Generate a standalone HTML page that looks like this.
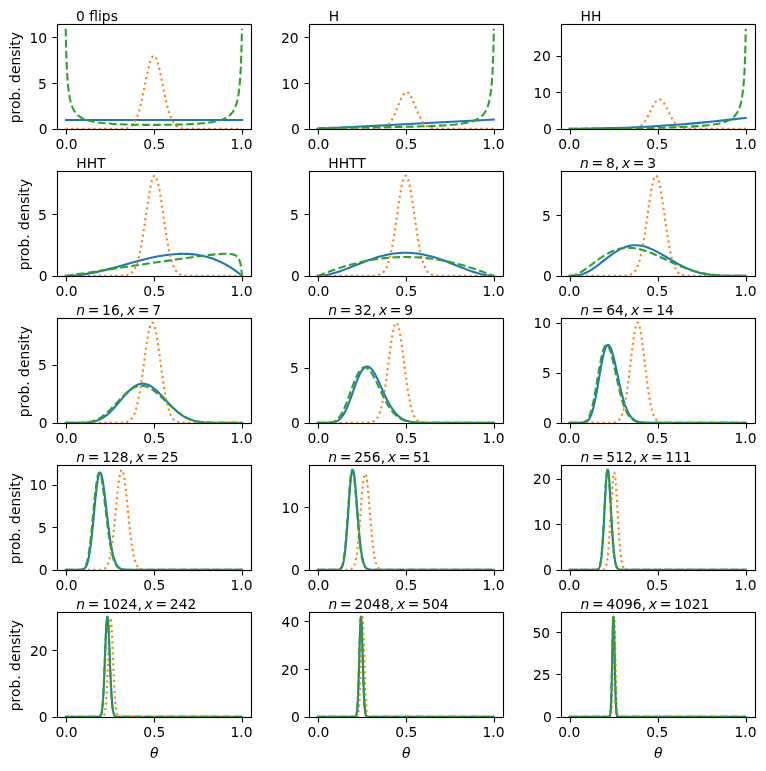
<!DOCTYPE html>
<html><head><meta charset="utf-8"><title>Posterior updating</title><style>html,body{margin:0;padding:0;background:#fff}svg{display:block}</style></head><body>
<svg width="766" height="771" viewBox="0 0 766 771">
<rect width="766" height="771" fill="#fff"/>
<defs><clipPath id="c0"><rect x="57" y="24" width="194" height="105"/></clipPath><clipPath id="c1"><rect x="309" y="24" width="194" height="105"/></clipPath><clipPath id="c2"><rect x="561" y="24" width="194" height="105"/></clipPath><clipPath id="c3"><rect x="57" y="171" width="194" height="105"/></clipPath><clipPath id="c4"><rect x="309" y="171" width="194" height="105"/></clipPath><clipPath id="c5"><rect x="561" y="171" width="194" height="105"/></clipPath><clipPath id="c6"><rect x="57" y="318" width="194" height="105"/></clipPath><clipPath id="c7"><rect x="309" y="318" width="194" height="105"/></clipPath><clipPath id="c8"><rect x="561" y="318" width="194" height="105"/></clipPath><clipPath id="c9"><rect x="57" y="465" width="194" height="105"/></clipPath><clipPath id="c10"><rect x="309" y="465" width="194" height="105"/></clipPath><clipPath id="c11"><rect x="561" y="465" width="194" height="105"/></clipPath><clipPath id="c12"><rect x="57" y="612" width="194" height="105"/></clipPath><clipPath id="c13"><rect x="309" y="612" width="194" height="105"/></clipPath><clipPath id="c14"><rect x="561" y="612" width="194" height="105"/></clipPath></defs>
<g clip-path="url(#c0)" fill="none" stroke-width="2.08" stroke-linejoin="round"><path d="M66 120L242 120" stroke="#1f77b4" stroke-linecap="square"/><path d="M65.7 128.77L114.7 128.77 119.1 128.74 121.92 128.67 123.68 128.56 125.09 128.41 126.33 128.21 127.56 127.91 128.62 127.55 129.68 127.06 130.56 126.53 131.44 125.87 131.97 125.4 132.5 124.87 133.38 123.82 134.26 122.56 135.14 121.06 136.02 119.29 136.73 117.66 137.61 115.35 138.31 113.27 139.02 110.98 139.9 107.84 140.78 104.37 141.66 100.62 143.25 93.27 146.24 78.38 147.3 73.3 148.36 68.59 149.41 64.4 150.12 61.99 150.65 60.41 151.18 59.04 151.71 57.9 152.23 57 152.76 56.36 153.12 56.07 153.29 55.96 153.64 55.85 153.82 55.83 154 55.85 154.35 55.96 154.52 56.07 154.88 56.36 155.41 57 155.93 57.9 156.46 59.04 156.99 60.41 157.52 61.99 158.23 64.4 159.28 68.59 160.34 73.3 161.4 78.38 164.39 93.27 165.98 100.62 166.86 104.37 167.74 107.84 168.62 110.98 169.33 113.27 170.03 115.35 170.91 117.66 171.62 119.29 172.5 121.06 173.38 122.56 174.26 123.82 175.14 124.87 175.67 125.4 176.2 125.87 177.08 126.53 177.96 127.06 179.02 127.55 180.08 127.91 181.31 128.21 182.55 128.41 183.96 128.56 185.72 128.67 188.54 128.74 192.94 128.77 241.94 128.77" stroke="#ff7f0e" stroke-dasharray="2.08 3.44"/><path d="M65.7 28.77L65.88 37.77 66.23 51.62 66.41 57.06 66.76 65.9 67.11 72.77 67.64 80.63 68.17 86.52 68.7 91.1 69.23 94.76 69.58 96.82 69.93 98.64 70.28 100.26 70.81 102.37 71.17 103.61 71.69 105.25 72.22 106.68 72.75 107.95 73.28 109.06 73.81 110.06 74.51 111.24 75.22 112.26 75.92 113.17 76.63 113.97 77.33 114.69 78.21 115.49 79.1 116.2 80.15 116.94 81.21 117.59 82.27 118.17 83.5 118.76 84.74 119.28 85.97 119.74 87.38 120.21 88.97 120.67 90.55 121.07 92.31 121.47 94.08 121.81 96.01 122.15 98.13 122.47 102.71 123.03 108 123.52 113.81 123.93 120.34 124.26 127.74 124.53 135.84 124.73 144.66 124.85 153.82 124.89 162.98 124.85 171.8 124.73 179.9 124.53 187.3 124.26 193.83 123.93 199.64 123.52 204.93 123.03 209.51 122.47 211.63 122.15 213.56 121.81 215.33 121.47 217.09 121.07 218.67 120.67 220.26 120.21 221.67 119.74 222.9 119.28 224.14 118.76 225.37 118.17 226.43 117.59 227.49 116.94 228.54 116.2 229.43 115.49 230.31 114.69 231.01 113.97 231.72 113.17 232.42 112.26 233.13 111.24 233.83 110.06 234.36 109.06 234.89 107.95 235.42 106.68 235.95 105.25 236.47 103.61 236.83 102.37 237.36 100.26 237.71 98.64 238.06 96.82 238.41 94.76 238.94 91.1 239.47 86.52 240 80.63 240.53 72.77 240.88 65.9 241.23 57.06 241.41 51.62 241.76 37.77 241.94 28.77" stroke="#2ca02c" stroke-dasharray="7.71 3.33"/></g>
<path d="M66.5 129.5v5M154.5 129.5v5M242.5 129.5v5M57.5 129.5h-5M57.5 83.5h-5M57.5 37.5h-5" stroke="#000" stroke-width="1.11" fill="none"/>
<rect x="57.5" y="24.5" width="194" height="105" fill="none" stroke="#000" stroke-width="1.11"/>
<g clip-path="url(#c1)" fill="none" stroke-width="2.08" stroke-linejoin="round"><path d="M317.61 128.77L493.84 119.63" stroke="#1f77b4" stroke-linecap="square"/><path d="M317.61 128.77L367.66 128.77 374.88 128.72 378.06 128.59 379.29 128.49 380.52 128.33 381.58 128.15 382.46 127.95 383.34 127.69 384.22 127.37 385.28 126.87 386.16 126.36 387.04 125.73 387.93 124.99 388.81 124.11 389.69 123.08 390.57 121.89 391.27 120.83 391.98 119.65 392.86 118.04 393.56 116.64 394.45 114.75 396.03 111.05 399.03 103.53 400.09 100.96 401.14 98.57 402.2 96.45 402.91 95.23 403.43 94.43 403.96 93.74 404.49 93.16 405.02 92.71 405.55 92.38 406.08 92.18 406.61 92.12 407.13 92.19 407.66 92.39 408.19 92.72 408.72 93.18 409.25 93.76 409.78 94.45 410.31 95.26 411.01 96.48 412.07 98.6 413.13 100.99 414.18 103.56 417 110.64 417.89 112.75 418.77 114.77 419.65 116.65 420.35 118.05 421.23 119.66 421.94 120.82 422.64 121.89 423.52 123.07 424.23 123.9 425.11 124.81 425.99 125.58 426.87 126.23 427.75 126.77 428.81 127.28 429.69 127.62 430.57 127.89 431.63 128.14 432.69 128.33 433.75 128.46 434.98 128.57 438.15 128.71 445.38 128.77 493.84 128.77" stroke="#ff7f0e" stroke-dasharray="2.08 3.44"/><path d="M317.61 128.77L317.96 128.6 318.49 128.44 319.19 128.29 319.9 128.2 322.01 128.04 325.18 127.92 334.53 127.77 378.76 127.29 391.8 127.1 403.26 126.88 415.07 126.6 425.46 126.27 434.45 125.9 442.38 125.47 449.26 124.98 455.25 124.42 457.89 124.11 460.36 123.78 462.65 123.43 464.94 123.03 466.88 122.65 468.82 122.2 470.58 121.74 472.34 121.2 473.93 120.65 475.34 120.08 476.75 119.43 477.98 118.78 479.22 118.03 480.27 117.29 481.33 116.43 482.39 115.45 483.27 114.49 484.15 113.39 484.86 112.39 485.56 111.23 486.27 109.91 486.79 108.78 487.5 107.04 488.03 105.52 488.56 103.78 489.08 101.75 489.61 99.37 489.97 97.53 490.32 95.44 490.67 93.06 491.02 90.31 491.38 87.11 491.9 81.16 492.43 73.22 492.79 66.27 492.96 62.11 493.31 51.85 493.67 37.86 493.84 28.77" stroke="#2ca02c" stroke-dasharray="7.71 3.33"/></g>
<path d="M318.5 129.5v5M406.5 129.5v5M494.5 129.5v5M309.5 129.5h-5M309.5 83.5h-5M309.5 37.5h-5" stroke="#000" stroke-width="1.11" fill="none"/>
<rect x="309.5" y="24.5" width="194" height="105" fill="none" stroke="#000" stroke-width="1.11"/>
<g clip-path="url(#c2)" fill="none" stroke-width="2.08" stroke-linejoin="round"><path d="M569.51 128.77L580.44 128.73 591.54 128.6 602.47 128.39 613.57 128.09 624.5 127.7 635.6 127.23 646.7 126.67 657.63 126.03 668.56 125.31 679.66 124.49 690.59 123.6 701.69 122.61 712.79 121.53 723.72 120.38 734.82 119.13 745.75 117.81" stroke="#1f77b4" stroke-linecap="square"/><path d="M569.51 128.77L620.44 128.77 627.67 128.73 630.84 128.63 633.31 128.43 634.37 128.29 635.25 128.13 636.13 127.93 637.01 127.67 638.07 127.28 638.95 126.88 639.83 126.38 640.71 125.79 641.59 125.08 642.47 124.26 643.35 123.31 644.06 122.46 644.76 121.52 645.65 120.23 646.35 119.1 647.23 117.58 648.82 114.59 651.81 108.52 652.87 106.45 653.93 104.52 654.99 102.81 655.69 101.83 656.22 101.18 656.75 100.63 657.28 100.16 657.81 99.8 658.33 99.54 658.86 99.39 659.39 99.34 659.92 99.4 660.45 99.57 660.98 99.84 661.51 100.22 662.04 100.69 662.56 101.26 663.09 101.91 663.8 102.91 664.86 104.63 665.91 106.57 666.97 108.64 669.79 114.35 671.38 117.35 672.26 118.88 673.14 120.29 674.02 121.57 674.72 122.5 675.43 123.35 676.31 124.29 677.02 124.95 677.9 125.67 678.78 126.28 679.66 126.79 680.54 127.21 681.6 127.61 682.48 127.88 683.36 128.09 684.24 128.26 685.3 128.41 686.53 128.54 687.77 128.62 690.94 128.73 698.16 128.77 745.75 128.77" stroke="#ff7f0e" stroke-dasharray="2.08 3.44"/><path d="M569.51 128.77L590.84 128.64 613.04 128.46 631.37 128.25 647.06 128.01 660.63 127.73 672.26 127.41 682.3 127.05 691.11 126.62 698.69 126.13 702.04 125.86 705.21 125.57 708.21 125.25 710.85 124.92 713.5 124.55 715.79 124.17 717.9 123.77 720.02 123.3 721.96 122.81 723.72 122.3 725.3 121.76 726.89 121.15 728.3 120.51 729.71 119.78 730.94 119.03 732 118.3 733.06 117.46 734.12 116.49 735 115.55 735.88 114.48 736.76 113.22 737.47 112.06 738.17 110.72 738.7 109.58 739.4 107.82 739.93 106.29 740.46 104.53 740.99 102.48 741.52 100.07 741.87 98.21 742.22 96.11 742.58 93.7 742.93 90.93 743.28 87.69 743.81 81.68 744.34 73.66 744.69 66.65 744.87 62.44 745.22 52.08 745.57 37.95 745.75 28.77" stroke="#2ca02c" stroke-dasharray="7.71 3.33"/></g>
<path d="M570.5 129.5v5M658.5 129.5v5M746.5 129.5v5M561.5 129.5h-5M561.5 92.5h-5M561.5 56.5h-5" stroke="#000" stroke-width="1.11" fill="none"/>
<rect x="561.5" y="24.5" width="194" height="105" fill="none" stroke="#000" stroke-width="1.11"/>
<g clip-path="url(#c3)" fill="none" stroke-width="2.08" stroke-linejoin="round"><path d="M65.7 275.77L69.05 275.72 72.4 275.56 75.92 275.3 79.45 274.94 83.15 274.46 86.85 273.89 90.9 273.17 94.96 272.36 98.31 271.64 101.83 270.82 105.53 269.91 109.58 268.87 116.81 266.92 134.26 262.07 138.84 260.84 142.89 259.79 147.12 258.75 151 257.86 154.7 257.06 158.4 256.34 161.75 255.74 165.1 255.22 168.27 254.79 171.44 254.43 174.44 254.17 177.44 253.97 180.43 253.85 183.25 253.82 185.37 253.84 187.3 253.9 189.42 254.01 191.36 254.15 193.47 254.35 195.41 254.58 197.35 254.85 199.29 255.17 201.23 255.53 203.17 255.94 205.1 256.39 206.87 256.85 208.81 257.4 210.57 257.95 212.51 258.6 214.27 259.24 216.03 259.92 217.79 260.65 219.56 261.43 221.32 262.25 223.08 263.13 224.84 264.05 226.61 265.02 228.37 266.05 230.13 267.13 231.89 268.26 233.66 269.45 235.24 270.56 237 271.85 238.59 273.06 240.35 274.46 241.94 275.77" stroke="#1f77b4" stroke-linecap="square"/><path d="M65.7 275.77L115.93 275.77 120.34 275.73 123.15 275.64 124.92 275.49 126.33 275.29 127.56 275.02 128.79 274.61 129.85 274.11 130.73 273.56 131.61 272.86 132.5 271.97 133.02 271.34 133.55 270.62 134.43 269.2 135.32 267.48 136.2 265.43 137.08 262.99 137.78 260.75 138.66 257.55 139.37 254.67 140.07 251.5 140.95 247.12 141.84 242.3 142.72 237.07 144.3 226.81 147.12 207.28 148.18 200.18 149.24 193.58 150.3 187.72 151 184.34 151.53 182.13 152.06 180.21 152.59 178.62 153.12 177.37 153.47 176.73 153.64 176.47 154 176.08 154.17 175.94 154.52 175.78 154.7 175.77 154.88 175.8 155.23 175.97 155.41 176.12 155.76 176.54 156.29 177.48 156.82 178.76 157.34 180.38 157.87 182.32 158.4 184.57 159.11 187.98 160.16 193.87 161.22 200.5 162.28 207.61 165.1 227.1 166.69 237.32 167.57 242.53 168.27 246.4 169.15 250.84 169.86 254.06 170.56 257 171.44 260.25 172.15 262.55 173.03 265.04 173.91 267.16 174.79 268.93 175.67 270.39 176.2 271.13 176.73 271.79 177.61 272.71 178.49 273.44 179.37 274.02 180.43 274.54 181.67 274.97 182.9 275.26 184.31 275.47 186.07 275.62 188.89 275.73 193.3 275.76 241.94 275.77" stroke="#ff7f0e" stroke-dasharray="2.08 3.44"/><path d="M65.7 275.77L66.58 275.73 67.99 275.57 73.28 274.83 126.86 266.74 151.35 263.07 173.56 259.81 190.48 257.42 203.34 255.73 208.45 255.11 213.04 254.61 216.91 254.23 220.44 253.96 223.43 253.8 226.08 253.75 228.37 253.8 230.48 253.98 232.25 254.26 233.66 254.63 234.36 254.88 234.89 255.11 235.59 255.47 236.12 255.81 236.65 256.2 237.18 256.67 237.71 257.23 238.06 257.68 238.41 258.19 238.77 258.78 239.12 259.48 239.47 260.29 240 261.83 240.53 263.91 240.88 265.74 241.06 266.84 241.41 269.58 241.76 273.33 241.94 275.77" stroke="#2ca02c" stroke-dasharray="7.71 3.33"/></g>
<path d="M66.5 276.5v5M154.5 276.5v5M242.5 276.5v5M57.5 276.5h-5M57.5 214.5h-5" stroke="#000" stroke-width="1.11" fill="none"/>
<rect x="57.5" y="171.5" width="194" height="105" fill="none" stroke="#000" stroke-width="1.11"/>
<g clip-path="url(#c4)" fill="none" stroke-width="2.08" stroke-linejoin="round"><path d="M317.61 275.77L319.72 275.72 321.84 275.57 323.95 275.33 326.24 274.97 328.53 274.52 330.82 274 333.29 273.35 335.94 272.57 340.17 271.18 345.1 269.38 349.86 267.53 362.02 262.67 365.54 261.32 368.89 260.08 372.24 258.91 375.59 257.81 378.76 256.85 381.93 255.97 385.11 255.19 388.1 254.54 391.1 253.99 394.09 253.53 397.09 253.17 399.91 252.93 402.91 252.78 405.73 252.73 408.54 252.78 411.54 252.93 414.36 253.17 417.36 253.53 420.35 253.99 423.35 254.54 426.34 255.19 429.52 255.97 432.69 256.85 435.86 257.81 439.21 258.91 442.56 260.08 445.91 261.32 449.43 262.67 461.59 267.53 466.35 269.38 471.28 271.18 475.51 272.57 478.16 273.35 480.63 274 482.92 274.52 485.21 274.97 487.5 275.33 489.61 275.57 491.73 275.72 493.84 275.77" stroke="#1f77b4" stroke-linecap="square"/><path d="M317.61 275.77L367.13 275.77 371.54 275.73 374.35 275.64 376.12 275.49 377.53 275.29 378.76 275.01 379.99 274.59 381.05 274.08 381.93 273.52 382.81 272.81 383.7 271.91 384.22 271.26 384.75 270.53 385.63 269.09 386.52 267.34 387.4 265.25 388.28 262.77 388.98 260.49 389.86 257.24 390.57 254.32 391.27 251.09 392.15 246.65 392.86 242.78 393.74 237.56 395.33 227.3 398.15 207.7 399.2 200.55 400.26 193.89 401.32 187.96 402.02 184.53 402.55 182.29 403.08 180.34 403.61 178.72 404.14 177.44 404.67 176.52 405.02 176.1 405.2 175.96 405.55 175.79 405.73 175.77 405.9 175.79 406.25 175.96 406.43 176.1 406.78 176.52 407.31 177.44 407.84 178.72 408.37 180.34 408.9 182.29 409.43 184.53 410.13 187.96 411.19 193.89 412.25 200.55 413.3 207.7 416.12 227.3 417.71 237.56 418.59 242.78 419.3 246.65 420.18 251.09 420.88 254.32 421.59 257.24 422.47 260.49 423.17 262.77 424.05 265.25 424.93 267.34 425.82 269.09 426.7 270.53 427.23 271.26 427.75 271.91 428.64 272.81 429.52 273.52 430.4 274.08 431.46 274.59 432.69 275.01 433.92 275.29 435.33 275.49 437.1 275.64 439.91 275.73 444.32 275.77 493.84 275.77" stroke="#ff7f0e" stroke-dasharray="2.08 3.44"/><path d="M317.61 275.77L317.96 275.74 318.49 275.64 319.9 275.21 321.84 274.49 328.71 271.84 333.12 270.21 338.23 268.43 343.34 266.77 348.45 265.24 353.38 263.89 358.32 262.66 363.25 261.55 368.72 260.46 374 259.55 379.29 258.78 384.58 258.15 389.86 257.66 395.15 257.3 400.44 257.09 405.73 257.02 411.01 257.09 416.3 257.3 421.59 257.66 426.87 258.15 432.16 258.78 437.45 259.55 442.73 260.46 448.2 261.55 453.13 262.66 458.07 263.89 463 265.24 468.11 266.77 473.22 268.43 478.33 270.21 482.74 271.84 489.61 274.49 491.55 275.21 492.96 275.64 493.49 275.74 493.84 275.77" stroke="#2ca02c" stroke-dasharray="7.71 3.33"/></g>
<path d="M318.5 276.5v5M406.5 276.5v5M494.5 276.5v5M309.5 276.5h-5M309.5 214.5h-5" stroke="#000" stroke-width="1.11" fill="none"/>
<rect x="309.5" y="171.5" width="194" height="105" fill="none" stroke="#000" stroke-width="1.11"/>
<g clip-path="url(#c5)" fill="none" stroke-width="2.08" stroke-linejoin="round"><path d="M569.51 275.77L572.33 275.75 574.45 275.65 576.56 275.45 578.5 275.15 580.44 274.72 582.38 274.15 584.14 273.52 586.08 272.69 588.02 271.73 589.96 270.65 592.07 269.34 594.18 267.93 596.12 266.54 598.41 264.82 607.23 257.9 610.93 255.11 613.04 253.6 614.98 252.3 616.92 251.08 618.68 250.06 620.97 248.85 623.09 247.89 625.2 247.06 627.32 246.38 629.43 245.86 631.37 245.51 633.49 245.28 635.6 245.21 637.36 245.26 639.3 245.43 641.06 245.7 643 246.09 644.94 246.6 646.88 247.2 648.99 247.97 651.11 248.84 652.87 249.63 654.81 250.57 656.93 251.65 659.04 252.8 663.27 255.23 671.55 260.17 675.08 262.23 678.95 264.39 682.48 266.23 684.59 267.26 686.53 268.15 688.47 268.99 690.41 269.78 692.35 270.51 694.29 271.19 696.23 271.81 698.16 272.38 700.28 272.93 702.39 273.42 704.51 273.85 706.62 274.23 708.91 274.57 711.21 274.86 713.5 275.09 715.96 275.29 720.9 275.56 726.54 275.7 733.06 275.76 745.75 275.77" stroke="#1f77b4" stroke-linecap="square"/><path d="M569.51 275.77L618.15 275.77 622.38 275.73 625.2 275.63 626.96 275.49 628.37 275.27 629.61 274.98 630.67 274.62 631.72 274.11 632.6 273.54 633.49 272.82 634.37 271.9 635.25 270.75 636.13 269.33 637.01 267.6 637.89 265.52 638.77 263.04 639.48 260.75 640.36 257.48 641.06 254.53 641.77 251.26 642.65 246.76 643.35 242.82 644.24 237.51 645.82 227.05 648.64 207.1 649.7 199.85 650.76 193.14 651.64 188.14 652.34 184.63 652.87 182.33 653.4 180.35 653.93 178.7 654.46 177.4 654.81 176.74 654.99 176.48 655.34 176.07 655.52 175.93 655.87 175.78 656.04 175.77 656.22 175.8 656.57 176 656.75 176.16 657.1 176.61 657.63 177.6 658.16 178.96 658.69 180.67 659.22 182.72 659.74 185.07 660.27 187.71 661.33 193.72 662.39 200.5 663.45 207.79 666.09 226.55 667.68 237.08 668.56 242.44 669.26 246.41 670.14 250.96 670.85 254.26 671.55 257.25 672.43 260.56 673.14 262.88 674.02 265.39 674.9 267.5 675.78 269.26 676.66 270.7 677.19 271.43 677.72 272.06 678.6 272.95 679.48 273.65 680.36 274.19 681.42 274.68 682.48 275.03 683.71 275.31 685.12 275.51 686.89 275.65 689.53 275.73 693.93 275.77 745.75 275.77" stroke="#ff7f0e" stroke-dasharray="2.08 3.44"/><path d="M569.51 275.77L570.92 275.73 572.16 275.6 573.39 275.37 574.62 275.04 576.03 274.55 577.44 273.95 578.85 273.26 580.44 272.39 581.67 271.65 583.08 270.75 585.9 268.8 588.72 266.73 596.65 260.75 599.12 258.96 601.23 257.5 603.7 255.89 605.99 254.5 608.28 253.23 610.57 252.07 612.87 251.05 615.16 250.17 617.45 249.42 619.56 248.86 621.85 248.39 624.15 248.05 626.44 247.86 628.73 247.79 630.84 247.85 632.96 248.01 635.07 248.28 637.19 248.64 639.48 249.13 641.77 249.72 644.06 250.39 646.53 251.21 648.64 251.98 650.76 252.8 653.05 253.75 655.52 254.81 660.27 256.98 669.79 261.47 673.84 263.35 678.07 265.23 681.95 266.85 686.36 268.54 688.47 269.29 690.59 270 692.7 270.67 694.82 271.29 696.93 271.87 699.05 272.4 701.34 272.92 703.63 273.38 705.92 273.8 708.21 274.17 710.5 274.49 712.97 274.78 715.44 275.02 717.9 275.22 723.01 275.51 728.65 275.68 735 275.76 745.75 275.77" stroke="#2ca02c" stroke-dasharray="7.71 3.33"/></g>
<path d="M570.5 276.5v5M658.5 276.5v5M746.5 276.5v5M561.5 276.5h-5M561.5 215.5h-5" stroke="#000" stroke-width="1.11" fill="none"/>
<rect x="561.5" y="171.5" width="194" height="105" fill="none" stroke="#000" stroke-width="1.11"/>
<g clip-path="url(#c6)" fill="none" stroke-width="2.08" stroke-linejoin="round"><path d="M65.7 422.77L76.98 422.76 81.74 422.72 85.79 422.58 87.38 422.47 88.97 422.33 90.55 422.13 92.14 421.87 93.72 421.55 95.13 421.19 96.54 420.76 97.95 420.25 99.36 419.66 100.6 419.07 102.01 418.3 103.24 417.56 104.47 416.74 105.71 415.85 106.94 414.88 108.17 413.84 109.41 412.73 110.82 411.39 113.11 409.03 115.58 406.3 117.87 403.64 123.33 397.16 126.15 393.96 127.56 392.45 128.97 391.02 130.38 389.68 131.61 388.6 133.2 387.34 134.61 386.36 136.02 385.52 137.43 384.83 138.84 384.3 140.25 383.92 140.95 383.79 141.66 383.71 142.89 383.65 144.13 383.72 145.36 383.92 146.59 384.23 148 384.73 149.24 385.29 150.65 386.07 152.06 386.97 153.47 387.99 154.7 388.97 156.11 390.19 157.52 391.49 158.93 392.86 161.93 395.96 168.27 402.84 171.09 405.81 172.68 407.41 174.09 408.78 175.5 410.1 176.91 411.34 178.49 412.67 180.08 413.9 181.67 415.04 183.25 416.08 184.84 417.03 186.42 417.88 188.01 418.64 189.77 419.39 191.36 419.97 193.12 420.53 194.88 421 196.82 421.42 198.76 421.76 200.7 422.03 202.81 422.26 205.1 422.44 209.51 422.64 215.15 422.74 222.2 422.77 241.94 422.77" stroke="#1f77b4" stroke-linecap="square"/><path d="M65.7 422.77L115.58 422.77 119.81 422.73 122.45 422.65 124.04 422.52 125.45 422.32 126.68 422.04 127.74 421.68 128.79 421.18 129.68 420.61 130.56 419.87 131.26 419.13 132.14 417.99 133.02 416.56 133.91 414.81 134.79 412.68 135.67 410.13 136.37 407.75 137.25 404.35 137.96 401.26 138.66 397.84 139.37 394.09 140.07 390.03 140.95 384.53 142.54 373.66 145.18 354.25 146.24 346.73 147.3 339.8 148.18 334.67 148.71 331.95 149.24 329.53 149.77 327.45 150.3 325.72 150.82 324.38 151.18 323.71 151.35 323.43 151.71 323.03 151.88 322.9 152.06 322.81 152.23 322.77 152.41 322.78 152.59 322.83 152.76 322.93 152.94 323.07 153.29 323.5 153.47 323.78 153.82 324.48 154.35 325.85 154.88 327.61 155.41 329.72 155.93 332.16 156.46 334.91 157.34 340.08 158.4 347.05 159.46 354.59 162.1 374.03 163.51 383.73 164.39 389.3 165.1 393.42 165.98 398.14 166.69 401.53 167.39 404.6 168.27 407.98 168.98 410.33 169.86 412.85 170.74 414.96 171.62 416.69 172.5 418.09 173.38 419.22 174.09 419.94 174.97 420.67 175.85 421.22 176.91 421.72 177.96 422.07 179.2 422.34 180.61 422.53 182.19 422.65 184.84 422.74 189.07 422.77 241.94 422.77" stroke="#ff7f0e" stroke-dasharray="2.08 3.44"/><path d="M65.7 422.77L75.04 422.76 79.45 422.71 83.15 422.57 84.74 422.46 86.32 422.3 87.91 422.09 89.49 421.81 90.9 421.51 92.31 421.15 93.72 420.71 94.96 420.27 96.37 419.7 97.6 419.13 98.83 418.49 100.07 417.79 101.3 417.02 102.54 416.19 103.77 415.29 105 414.33 106.24 413.3 107.65 412.07 109.94 409.91 112.4 407.43 114.7 405.02 120.51 398.77 123.51 395.69 125.09 394.15 126.5 392.86 127.91 391.65 129.32 390.53 130.91 389.39 132.5 388.39 134.08 387.54 135.49 386.92 137.08 386.38 138.49 386.04 139.9 385.83 141.31 385.77 142.54 385.82 143.95 386 145.36 386.32 146.77 386.77 148.18 387.33 149.77 388.11 151.18 388.91 152.76 389.94 154.17 390.94 155.58 392.03 156.99 393.18 158.58 394.56 161.75 397.47 168.45 403.92 171.27 406.56 174.44 409.37 177.26 411.67 179.02 413 180.61 414.12 182.37 415.27 183.96 416.22 185.54 417.09 187.3 417.96 188.89 418.67 190.65 419.36 192.42 419.97 194.18 420.5 195.94 420.95 197.88 421.36 199.82 421.7 201.93 421.99 204.22 422.23 206.51 422.41 210.92 422.62 216.56 422.73 223.61 422.77 241.94 422.77" stroke="#2ca02c" stroke-dasharray="7.71 3.33"/></g>
<path d="M66.5 423.5v5M154.5 423.5v5M242.5 423.5v5M57.5 423.5h-5M57.5 365.5h-5" stroke="#000" stroke-width="1.11" fill="none"/>
<rect x="57.5" y="318.5" width="194" height="105" fill="none" stroke="#000" stroke-width="1.11"/>
<g clip-path="url(#c7)" fill="none" stroke-width="2.08" stroke-linejoin="round"><path d="M317.61 422.77L326.07 422.77 329.06 422.73 331.53 422.59 332.59 422.46 333.64 422.29 334.7 422.03 335.76 421.68 336.64 421.3 337.52 420.83 338.4 420.26 339.28 419.57 340.17 418.76 340.87 418.01 341.75 416.94 342.46 415.98 343.34 414.65 344.04 413.47 344.75 412.2 345.63 410.47 346.33 408.99 347.21 407.01 348.62 403.59 350.03 399.91 351.44 396.04 354.97 386.13 356.73 381.41 357.61 379.19 358.49 377.11 359.37 375.16 360.08 373.73 360.96 372.09 361.84 370.65 362.72 369.41 363.6 368.39 364.49 367.59 365.01 367.21 365.37 367.01 365.72 366.84 366.25 366.66 366.6 366.58 367.13 366.54 367.48 366.55 368.01 366.64 368.36 366.74 368.89 366.95 369.24 367.14 369.77 367.48 370.65 368.2 371.54 369.11 372.42 370.2 373.3 371.44 374.35 373.13 375.06 374.35 375.94 375.98 377.7 379.52 379.47 383.3 384.22 393.83 385.63 396.83 387.04 399.69 388.63 402.72 390.04 405.23 391.45 407.53 392.86 409.64 394.09 411.31 395.5 413.04 396.91 414.56 398.32 415.9 399.73 417.07 401.32 418.19 402.91 419.13 404.49 419.9 406.08 420.53 407.66 421.05 409.43 421.49 411.19 421.84 413.13 422.12 415.24 422.34 417.71 422.51 420.35 422.63 425.11 422.72 432.34 422.76 493.84 422.77" stroke="#1f77b4" stroke-linecap="square"/><path d="M317.61 422.77L362.02 422.77 365.9 422.73 368.36 422.63 369.95 422.48 371.18 422.27 372.24 422 373.3 421.59 374.18 421.12 375.06 420.5 375.94 419.67 376.65 418.84 377.17 418.1 377.53 417.55 378.23 416.28 378.76 415.16 379.11 414.34 379.82 412.48 380.52 410.32 381.23 407.83 381.93 404.99 382.64 401.79 383.34 398.22 384.05 394.28 384.75 389.98 385.63 384.14 387.04 373.91 389.51 354.74 390.57 346.78 391.45 340.61 392.33 335.1 392.86 332.18 393.39 329.6 393.92 327.4 394.45 325.59 394.97 324.22 395.33 323.55 395.5 323.29 395.86 322.93 396.03 322.82 396.21 322.77 396.38 322.77 396.56 322.82 396.74 322.93 396.91 323.08 397.27 323.55 397.44 323.86 397.79 324.62 398.32 326.14 398.68 327.39 399.2 329.6 399.73 332.19 400.26 335.11 401.14 340.64 402.02 346.82 403.08 354.81 405.55 374.06 406.96 384.33 407.84 390.18 408.54 394.48 409.25 398.43 409.95 402 410.66 405.2 411.54 408.68 412.25 411.08 413.13 413.62 413.83 415.33 414.18 416.08 414.71 417.09 415.07 417.69 415.59 418.49 416.12 419.18 416.65 419.78 417.36 420.44 418.24 421.08 419.12 421.57 420 421.92 421.06 422.23 422.29 422.45 423.7 422.6 425.29 422.69 427.75 422.75 431.98 422.77 493.84 422.77" stroke="#ff7f0e" stroke-dasharray="2.08 3.44"/><path d="M317.61 422.77L324.83 422.76 327.65 422.72 328.89 422.65 329.94 422.56 331 422.41 331.88 422.24 332.94 421.95 333.82 421.62 334.7 421.21 335.58 420.69 336.46 420.07 337.17 419.48 338.05 418.62 338.76 417.83 339.64 416.71 340.34 415.7 341.05 414.6 341.75 413.39 342.46 412.09 343.16 410.69 343.87 409.21 344.75 407.22 346.16 403.8 347.57 400.12 352.15 387.42 353.91 382.71 354.79 380.49 355.67 378.39 356.56 376.43 357.44 374.63 358.49 372.7 359.37 371.29 360.26 370.09 361.14 369.09 362.02 368.31 362.55 367.95 362.9 367.75 363.25 367.58 363.78 367.4 364.13 367.33 364.66 367.28 365.01 367.29 365.54 367.36 365.9 367.46 366.42 367.66 366.78 367.84 367.31 368.16 368.19 368.84 369.07 369.71 369.95 370.74 370.83 371.92 371.89 373.53 372.59 374.69 373.47 376.25 374.35 377.9 375.41 379.98 377.17 383.62 382.11 394.13 383.7 397.36 385.11 400.1 386.69 403.01 388.1 405.41 389.51 407.62 390.92 409.65 392.33 411.49 393.74 413.14 395.15 414.6 396.56 415.9 397.97 417.03 399.56 418.12 401.14 419.03 402.91 419.88 404.49 420.49 406.08 421 407.84 421.44 409.78 421.82 411.72 422.1 414.01 422.33 416.48 422.5 419.3 422.62 424.23 422.72 431.63 422.76 493.84 422.77" stroke="#2ca02c" stroke-dasharray="7.71 3.33"/></g>
<path d="M318.5 423.5v5M406.5 423.5v5M494.5 423.5v5M309.5 423.5h-5M309.5 368.5h-5" stroke="#000" stroke-width="1.11" fill="none"/>
<rect x="309.5" y="318.5" width="194" height="105" fill="none" stroke="#000" stroke-width="1.11"/>
<g clip-path="url(#c8)" fill="none" stroke-width="2.08" stroke-linejoin="round"><path d="M569.51 422.77L578.68 422.77 581.32 422.73 582.38 422.68 583.26 422.6 584.14 422.47 584.84 422.3 585.73 421.99 586.43 421.64 587.14 421.17 587.84 420.55 588.55 419.76 589.07 419.04 589.6 418.19 590.13 417.21 590.84 415.67 591.37 414.34 591.89 412.85 592.42 411.19 592.95 409.36 593.48 407.36 594.01 405.19 594.71 402.05 595.77 396.84 596.83 391.14 600.18 371.56 601.41 364.65 602.64 358.4 603.17 356.01 603.7 353.81 604.41 351.21 604.94 349.53 605.46 348.1 605.99 346.93 606.52 346.02 607.05 345.38 607.23 345.22 607.58 345 607.76 344.94 608.11 344.89 608.28 344.91 608.64 345.04 608.81 345.15 609.16 345.45 609.69 346.1 610.22 346.99 610.75 348.11 611.46 349.91 611.98 351.49 612.69 353.85 613.75 357.88 614.8 362.35 616.04 367.94 619.21 382.74 620.27 387.44 621.15 391.16 622.21 395.36 623.26 399.22 624.32 402.71 625.38 405.85 626.44 408.61 627.49 411.03 628.55 413.12 629.08 414.05 629.78 415.18 630.31 415.94 631.02 416.86 631.55 417.49 632.25 418.23 632.96 418.88 633.66 419.45 634.37 419.95 635.07 420.38 636.13 420.92 637.36 421.41 638.6 421.78 640.01 422.1 641.59 422.34 643.35 422.51 645.29 422.63 647.76 422.71 651.64 422.75 657.81 422.77 745.75 422.77" stroke="#1f77b4" stroke-linecap="square"/><path d="M569.51 422.77L606.87 422.77 610.4 422.72 612.51 422.62 613.92 422.47 614.98 422.26 616.04 421.94 616.92 421.55 617.8 421 618.51 420.42 619.21 419.68 619.92 418.75 620.62 417.59 621.33 416.17 622.03 414.46 622.74 412.4 623.44 409.97 624.15 407.14 624.85 403.87 625.38 401.13 625.91 398.14 626.61 393.76 627.32 388.95 628.02 383.74 629.26 373.85 631.55 354.23 632.43 346.94 633.31 340.18 634.01 335.34 634.54 332.12 635.07 329.31 635.6 326.96 635.95 325.67 636.48 324.16 636.83 323.46 637.19 322.99 637.36 322.86 637.54 322.78 637.72 322.77 637.89 322.82 638.07 322.93 638.24 323.11 638.6 323.64 638.95 324.42 639.48 326.04 639.83 327.4 640.36 329.84 640.71 331.72 641.24 334.88 642.12 340.94 643 347.77 646 373.17 647.41 384.44 648.11 389.58 648.82 394.32 649.52 398.63 650.23 402.49 650.93 405.91 651.64 408.9 652.34 411.47 652.7 412.61 653.22 414.15 653.58 415.07 654.11 416.3 654.46 417.03 654.99 417.99 655.34 418.56 655.87 419.3 656.4 419.92 656.93 420.45 657.63 421.02 658.33 421.47 659.22 421.88 660.1 422.17 661.15 422.41 662.21 422.56 663.45 422.66 665.03 422.72 671.38 422.77 745.75 422.77" stroke="#ff7f0e" stroke-dasharray="2.08 3.44"/><path d="M569.51 422.77L577.97 422.77 580.44 422.73 581.5 422.67 582.38 422.57 583.08 422.45 583.79 422.27 584.67 421.92 585.37 421.53 586.08 421.01 586.61 420.51 587.31 419.68 587.84 418.93 588.37 418.04 588.9 417.01 589.6 415.4 590.13 414.01 590.66 412.44 591.19 410.7 591.72 408.79 592.25 406.71 593.3 402.03 594.36 396.74 595.42 390.95 598.59 372.2 599.82 365.19 601.06 358.84 601.59 356.39 602.12 354.14 602.82 351.48 603.35 349.76 603.88 348.29 604.41 347.07 604.94 346.11 605.46 345.43 605.64 345.26 605.99 345.01 606.17 344.93 606.52 344.86 606.7 344.87 607.05 344.97 607.23 345.06 607.58 345.34 608.11 345.95 608.64 346.81 609.16 347.88 609.87 349.65 610.4 351.19 611.1 353.51 612.16 357.49 613.39 362.68 614.45 367.45 617.8 382.97 618.86 387.63 619.74 391.32 620.8 395.47 621.85 399.28 622.91 402.75 623.97 405.85 625.03 408.59 625.55 409.83 626.26 411.36 627.32 413.38 627.85 414.28 628.55 415.37 629.08 416.11 629.78 417 630.31 417.6 631.02 418.32 631.72 418.96 632.43 419.51 633.13 420 633.84 420.42 634.9 420.94 636.13 421.42 637.54 421.83 638.95 422.13 640.54 422.35 642.3 422.52 644.24 422.63 646.7 422.71 650.58 422.75 656.93 422.77 745.75 422.77" stroke="#2ca02c" stroke-dasharray="7.71 3.33"/></g>
<path d="M570.5 423.5v5M658.5 423.5v5M746.5 423.5v5M561.5 423.5h-5M561.5 373.5h-5M561.5 323.5h-5" stroke="#000" stroke-width="1.11" fill="none"/>
<rect x="561.5" y="318.5" width="194" height="105" fill="none" stroke="#000" stroke-width="1.11"/>
<g clip-path="url(#c9)" fill="none" stroke-width="2.08" stroke-linejoin="round"><path d="M65.7 569.77L79.62 569.75 81.39 569.67 82.09 569.58 82.62 569.47 83.33 569.24 84.03 568.87 84.56 568.48 85.09 567.95 85.62 567.25 86.15 566.34 86.67 565.2 87.03 564.28 87.56 562.65 88.08 560.68 88.61 558.34 88.97 556.56 89.49 553.55 89.85 551.32 90.73 544.92 91.43 539.01 92.31 530.78 94.96 503.43 95.66 496.44 96.54 488.54 97.25 483.14 97.6 480.81 97.95 478.75 98.31 476.98 98.66 475.5 99.01 474.34 99.36 473.49 99.54 473.19 99.72 472.97 99.89 472.82 100.07 472.76 100.24 472.77 100.42 472.87 100.6 473.04 100.77 473.28 101.13 474 101.3 474.48 101.65 475.63 102.01 477.05 102.36 478.72 102.71 480.63 103.24 483.89 103.95 488.87 104.65 494.41 107.65 520.25 109.06 531.61 109.94 537.97 110.64 542.57 111.35 546.72 112.05 550.4 112.76 553.65 113.64 557.1 113.99 558.31 114.52 559.95 114.87 560.93 115.4 562.25 115.75 563.04 116.28 564.09 116.81 565 117.34 565.78 117.87 566.45 118.4 567.02 118.93 567.5 119.45 567.9 120.16 568.34 121.04 568.76 121.92 569.07 122.98 569.32 124.04 569.49 125.27 569.61 126.86 569.69 128.79 569.74 136.37 569.77 241.94 569.77" stroke="#1f77b4" stroke-linecap="square"/><path d="M65.7 569.77L96.37 569.77 99.19 569.73 100.95 569.62 102.01 569.48 102.89 569.28 103.77 568.96 104.47 568.59 105.18 568.06 105.71 567.55 106.41 566.66 106.94 565.82 107.65 564.4 108.17 563.08 108.88 560.93 109.41 558.99 109.94 556.75 110.47 554.17 110.99 551.24 111.52 547.95 112.05 544.31 112.58 540.3 113.64 531.3 114.7 521.2 117.34 494.48 118.04 488 118.75 482.22 119.28 478.47 119.63 476.3 119.98 474.41 120.34 472.82 120.69 471.55 121.04 470.62 121.22 470.28 121.39 470.02 121.57 469.85 121.74 469.77 121.92 469.77 122.1 469.87 122.27 470.04 122.45 470.31 122.8 471.09 123.15 472.2 123.51 473.63 123.86 475.37 124.21 477.39 124.74 480.92 125.45 486.42 126.15 492.64 127.03 501.09 129.15 522.09 130.38 533.34 131.09 539.11 131.61 543.06 132.32 547.81 132.85 550.98 133.55 554.68 134.26 557.82 134.96 560.43 135.67 562.57 136.37 564.29 136.73 565.01 137.25 565.95 137.61 566.48 138.13 567.16 138.49 567.54 139.02 568.03 139.54 568.41 140.25 568.81 140.95 569.1 141.84 569.35 142.72 569.52 143.77 569.63 145.01 569.71 146.42 569.74 152.23 569.77 241.94 569.77" stroke="#ff7f0e" stroke-dasharray="2.08 3.44"/><path d="M65.7 569.77L79.1 569.75 80.86 569.66 81.56 569.55 82.09 569.43 82.8 569.17 83.5 568.77 84.03 568.33 84.56 567.74 85.09 566.96 85.44 566.33 85.97 565.16 86.32 564.23 86.85 562.57 87.38 560.55 87.91 558.16 88.26 556.35 88.79 553.28 89.14 550.99 90.02 544.47 90.73 538.46 91.61 530.1 94.08 504.32 94.96 495.53 95.66 489.16 96.37 483.6 96.9 480.08 97.25 478.08 97.6 476.38 97.95 474.98 98.31 473.89 98.66 473.12 98.83 472.86 99.01 472.68 99.19 472.57 99.36 472.55 99.54 472.61 99.72 472.74 99.89 472.96 100.07 473.25 100.42 474.05 100.77 475.15 101.13 476.51 101.48 478.14 101.83 480 102.36 483.2 103.06 488.12 103.95 495.06 106.76 519.48 108.17 530.92 109.06 537.34 109.76 541.99 110.47 546.19 111.17 549.93 111.88 553.23 112.76 556.75 113.11 557.98 113.64 559.65 113.99 560.66 114.52 562.01 114.87 562.81 115.4 563.89 115.93 564.82 116.46 565.63 116.99 566.32 117.52 566.9 118.04 567.4 118.75 567.94 119.45 568.37 120.34 568.78 121.22 569.08 122.27 569.33 123.33 569.49 124.56 569.61 126.15 569.69 128.09 569.74 135.67 569.77 241.94 569.77" stroke="#2ca02c" stroke-dasharray="7.71 3.33"/></g>
<path d="M66.5 570.5v5M154.5 570.5v5M242.5 570.5v5M57.5 570.5h-5M57.5 527.5h-5M57.5 485.5h-5" stroke="#000" stroke-width="1.11" fill="none"/>
<rect x="57.5" y="465.5" width="194" height="105" fill="none" stroke="#000" stroke-width="1.11"/>
<g clip-path="url(#c10)" fill="none" stroke-width="2.08" stroke-linejoin="round"><path d="M317.61 569.77L336.11 569.76 337.7 569.73 338.76 569.62 339.46 569.46 339.99 569.25 340.52 568.93 340.87 568.62 341.4 568 341.75 567.43 342.1 566.73 342.46 565.86 342.81 564.8 343.16 563.51 343.51 561.99 343.87 560.19 344.22 558.09 344.57 555.68 344.92 552.94 345.28 549.86 345.98 542.68 346.86 531.92 347.57 522.2 349.33 496.62 349.86 489.6 350.39 483.35 350.74 479.72 351.09 476.59 351.44 474.02 351.62 472.95 351.97 471.28 352.15 470.68 352.33 470.25 352.5 469.97 352.68 469.85 352.85 469.9 353.03 470.1 353.21 470.46 353.38 470.98 353.74 472.46 353.91 473.41 354.26 475.72 354.79 480.1 355.32 485.4 355.85 491.41 358.14 520.55 359.2 532.95 359.73 538.47 360.26 543.45 360.78 547.89 361.31 551.77 361.84 555.13 362.55 558.83 363.08 561.08 363.43 562.36 363.78 563.48 364.13 564.46 364.49 565.3 364.84 566.03 365.19 566.65 365.54 567.18 366.07 567.83 366.42 568.17 366.95 568.59 367.48 568.91 368.01 569.14 368.72 569.37 369.42 569.52 370.3 569.63 371.18 569.7 373.65 569.76 493.84 569.77" stroke="#1f77b4" stroke-linecap="square"/><path d="M317.61 569.77L345.8 569.77 347.92 569.74 349.15 569.67 350.03 569.56 350.74 569.39 351.44 569.1 351.97 568.78 352.5 568.32 352.85 567.93 353.38 567.16 353.74 566.51 354.26 565.29 354.79 563.72 355.32 561.74 355.67 560.15 356.2 557.34 356.56 555.15 357.26 549.98 357.96 543.73 358.85 534.45 359.73 523.84 361.84 496.71 362.37 490.61 362.9 485.19 363.25 482.06 363.6 479.36 363.96 477.15 364.13 476.24 364.49 474.82 364.66 474.32 364.84 473.95 365.01 473.73 365.19 473.66 365.37 473.72 365.54 473.93 365.72 474.27 365.9 474.76 366.25 476.14 366.42 477.02 366.78 479.16 367.13 481.77 367.48 484.79 368.01 489.99 368.54 495.83 370.83 523.81 371.71 533.81 372.24 539.24 372.77 544.16 373.3 548.55 373.83 552.4 374.35 555.72 374.88 558.55 375.41 560.91 375.76 562.25 376.12 563.42 376.47 564.44 376.82 565.32 377.17 566.07 377.53 566.71 377.88 567.26 378.23 567.71 378.58 568.1 379.11 568.55 379.64 568.9 380.17 569.15 380.7 569.34 381.4 569.5 382.11 569.61 382.99 569.69 385.28 569.76 493.84 569.77" stroke="#ff7f0e" stroke-dasharray="2.08 3.44"/><path d="M317.61 569.77L335.76 569.76 337.35 569.73 338.4 569.62 339.11 569.46 339.64 569.25 340.17 568.92 340.52 568.61 341.05 567.98 341.4 567.41 341.75 566.69 342.1 565.81 342.46 564.73 342.81 563.43 343.16 561.88 343.51 560.06 343.87 557.93 344.22 555.49 344.57 552.72 344.92 549.6 345.63 542.34 346.33 533.8 347.04 524.21 348.98 496.07 349.51 489.08 350.03 482.87 350.39 479.29 350.74 476.21 351.09 473.69 351.27 472.66 351.62 471.06 351.8 470.49 351.97 470.09 352.15 469.85 352.33 469.77 352.5 469.85 352.68 470.09 352.85 470.49 353.03 471.04 353.38 472.59 353.56 473.57 353.91 475.95 354.44 480.41 354.97 485.78 355.5 491.84 357.79 521.01 358.85 533.36 359.37 538.84 359.9 543.78 360.43 548.18 360.96 552.02 361.49 555.34 362.19 559 362.72 561.22 363.08 562.48 363.43 563.59 363.78 564.55 364.13 565.38 364.49 566.09 364.84 566.7 365.19 567.22 365.72 567.86 366.07 568.2 366.6 568.61 367.13 568.92 367.66 569.16 368.36 569.38 369.07 569.52 369.95 569.63 370.83 569.7 373.3 569.76 493.84 569.77" stroke="#2ca02c" stroke-dasharray="7.71 3.33"/></g>
<path d="M318.5 570.5v5M406.5 570.5v5M494.5 570.5v5M309.5 570.5h-5M309.5 507.5h-5" stroke="#000" stroke-width="1.11" fill="none"/>
<rect x="309.5" y="465.5" width="194" height="105" fill="none" stroke="#000" stroke-width="1.11"/>
<g clip-path="url(#c11)" fill="none" stroke-width="2.08" stroke-linejoin="round"><path d="M569.51 569.77L594.01 569.77 595.59 569.75 596.48 569.7 597 569.63 597.53 569.49 598.06 569.23 598.41 568.96 598.77 568.58 599.12 568.06 599.47 567.35 599.65 566.9 600 565.81 600.35 564.4 600.88 561.55 601.23 559.08 601.59 556.08 602.12 550.51 602.64 543.59 603.35 532.37 603.88 522.73 605.29 495.41 605.82 486.25 606.17 480.99 606.52 476.59 606.7 474.77 607.05 471.93 607.23 470.94 607.4 470.25 607.58 469.86 607.76 469.77 607.93 469.98 608.11 470.49 608.28 471.29 608.46 472.37 608.81 475.33 609.34 481.53 610.05 492.31 611.63 520.58 612.34 532.25 612.87 539.97 613.22 544.54 613.57 548.62 613.92 552.21 614.28 555.34 614.8 559.21 615.16 561.3 615.69 563.79 616.21 565.64 616.74 566.97 617.1 567.64 617.45 568.16 617.8 568.57 618.15 568.88 618.51 569.11 618.86 569.29 619.39 569.48 619.92 569.59 621.15 569.72 623.09 569.76 745.75 569.77" stroke="#1f77b4" stroke-linecap="square"/><path d="M569.51 569.77L599.3 569.77 601.94 569.73 602.64 569.66 603.17 569.56 603.7 569.38 604.05 569.19 604.41 568.94 604.76 568.58 605.11 568.1 605.46 567.46 605.82 566.62 605.99 566.11 606.35 564.89 606.7 563.35 607.05 561.44 607.4 559.12 607.76 556.34 608.28 551.23 608.81 544.93 609.52 534.74 610.22 522.86 611.63 497.4 612.16 488.82 612.51 483.83 613.04 477.84 613.39 475.02 613.57 473.99 613.75 473.23 613.92 472.75 614.1 472.54 614.28 472.61 614.45 472.95 614.63 473.56 614.8 474.44 615.16 476.96 615.33 478.58 615.69 482.46 616.04 487.09 616.57 495.12 618.15 522.25 618.86 533.47 619.39 540.9 619.74 545.31 620.09 549.25 620.44 552.73 620.8 555.77 621.33 559.53 621.68 561.56 622.21 563.99 622.74 565.78 623.26 567.08 623.62 567.73 623.97 568.23 624.32 568.63 624.67 568.93 625.03 569.15 625.38 569.32 625.73 569.45 626.26 569.58 626.79 569.66 627.49 569.72 629.43 569.76 745.75 569.77" stroke="#ff7f0e" stroke-dasharray="2.08 3.44"/><path d="M569.51 569.77L593.83 569.77 595.42 569.75 596.3 569.7 596.83 569.63 597.36 569.49 597.89 569.23 598.24 568.96 598.59 568.58 598.94 568.05 599.3 567.33 599.47 566.89 599.82 565.8 600.18 564.38 600.71 561.52 601.06 559.03 601.41 556.02 601.94 550.43 602.47 543.49 603.17 532.24 603.7 522.58 605.11 495.26 605.64 486.12 605.99 480.87 606.35 476.5 606.52 474.69 606.87 471.88 607.05 470.9 607.23 470.23 607.4 469.85 607.58 469.77 607.76 470 607.93 470.52 608.11 471.33 608.28 472.43 608.64 475.41 609.16 481.64 609.87 492.45 611.46 520.71 612.16 532.37 612.69 540.07 613.04 544.62 613.39 548.69 613.75 552.27 614.1 555.39 614.63 559.25 614.98 561.33 615.51 563.82 616.04 565.66 616.57 566.99 616.92 567.65 617.27 568.17 617.62 568.57 617.98 568.88 618.33 569.12 618.68 569.29 619.21 569.48 619.74 569.59 620.97 569.72 622.91 569.76 745.75 569.77" stroke="#2ca02c" stroke-dasharray="7.71 3.33"/></g>
<path d="M570.5 570.5v5M658.5 570.5v5M746.5 570.5v5M561.5 570.5h-5M561.5 524.5h-5M561.5 479.5h-5" stroke="#000" stroke-width="1.11" fill="none"/>
<rect x="561.5" y="465.5" width="194" height="105" fill="none" stroke="#000" stroke-width="1.11"/>
<g clip-path="url(#c12)" fill="none" stroke-width="2.08" stroke-linejoin="round"><path d="M65.7 716.77L96.37 716.77 98.31 716.75 99.19 716.65 99.54 716.56 99.89 716.39 100.24 716.12 100.42 715.93 100.77 715.39 100.95 715.02 101.3 714.03 101.65 712.59 102.01 710.58 102.18 709.31 102.54 706.16 102.71 704.25 103.24 696.98 103.59 690.8 104.12 679.58 105.53 643.33 106.06 631.07 106.41 624.56 106.76 619.86 106.94 618.28 107.12 617.25 107.29 616.78 107.47 616.87 107.65 617.53 107.82 618.74 108 620.47 108.17 622.7 108.53 628.47 109.06 639.69 110.29 670.2 110.82 682.07 111.35 692.07 111.88 699.97 112.23 704.1 112.58 707.4 112.93 709.97 113.29 711.93 113.64 713.39 113.81 713.97 114.17 714.87 114.34 715.21 114.7 715.74 114.87 715.94 115.22 716.24 115.75 716.51 116.46 716.67 117.34 716.74 118.75 716.77 241.94 716.77" stroke="#1f77b4" stroke-linecap="square"/><path d="M65.7 716.77L99.19 716.77 101.3 716.75 102.18 716.66 102.54 716.57 102.89 716.43 103.24 716.19 103.42 716.02 103.77 715.55 103.95 715.23 104.3 714.36 104.65 713.11 105 711.35 105.18 710.24 105.53 707.48 105.71 705.79 106.24 699.33 106.76 690.61 107.29 679.65 108.88 640.16 109.41 629 109.76 623.39 109.94 621.26 110.11 619.64 110.29 618.54 110.47 617.98 110.64 617.96 110.82 618.5 110.99 619.56 111.17 621.14 111.35 623.21 111.7 628.66 112.23 639.42 113.46 669.34 113.99 681.19 114.52 691.28 115.05 699.32 115.4 703.55 115.75 706.95 116.11 709.62 116.46 711.66 116.81 713.19 116.99 713.8 117.34 714.75 117.52 715.11 117.87 715.68 118.04 715.89 118.4 716.2 118.93 716.49 119.63 716.67 120.51 716.74 121.92 716.77 241.94 716.77" stroke="#ff7f0e" stroke-dasharray="2.08 3.44"/><path d="M65.7 716.77L96.37 716.77 98.31 716.74 99.19 716.63 99.54 716.52 99.89 716.34 100.24 716.03 100.42 715.82 100.77 715.22 100.95 714.82 101.3 713.73 101.65 712.16 102.01 709.98 102.18 708.62 102.54 705.25 102.71 703.22 103.06 698.39 103.42 692.48 103.95 681.64 104.47 668.81 105.53 641.19 106.06 629.35 106.41 623.25 106.59 620.89 106.76 619.04 106.94 617.72 107.12 616.96 107.29 616.77 107.47 617.14 107.65 618.07 107.82 619.54 108 621.52 108.35 626.85 108.88 637.62 110.11 668.02 110.64 680.15 110.99 687.28 111.35 693.49 111.88 701.05 112.23 704.96 112.58 708.08 112.93 710.49 113.29 712.32 113.64 713.68 113.99 714.66 114.17 715.04 114.52 715.62 114.7 715.84 115.05 716.17 115.58 716.47 115.93 716.59 116.28 716.66 117.16 716.74 118.57 716.77 241.94 716.77" stroke="#2ca02c" stroke-dasharray="7.71 3.33"/></g>
<path d="M66.5 717.5v5M154.5 717.5v5M242.5 717.5v5M57.5 717.5h-5M57.5 650.5h-5" stroke="#000" stroke-width="1.11" fill="none"/>
<rect x="57.5" y="612.5" width="194" height="105" fill="none" stroke="#000" stroke-width="1.11"/>
<g clip-path="url(#c13)" fill="none" stroke-width="2.08" stroke-linejoin="round"><path d="M317.61 716.77L354.09 716.76 354.62 716.73 354.97 716.67 355.32 716.54 355.5 716.43 355.67 716.27 355.85 716.06 356.03 715.77 356.2 715.38 356.38 714.85 356.56 714.17 356.73 713.29 357.08 710.76 357.26 709.02 357.61 704.37 357.96 697.87 358.32 689.35 358.67 678.86 359.73 641.3 360.08 630.23 360.43 621.94 360.61 619.16 360.78 617.42 360.96 616.77 361.14 617.22 361.31 618.74 361.49 621.3 361.84 629.1 362.19 639.66 363.08 670.29 363.43 681.48 363.96 695.15 364.31 701.95 364.49 704.68 364.84 708.96 365.01 710.59 365.37 713.01 365.54 713.88 365.72 714.57 365.9 715.11 366.07 715.53 366.25 715.85 366.42 716.1 366.78 716.42 367.13 716.59 367.66 716.71 368.19 716.75 369.24 716.77 493.84 716.77" stroke="#1f77b4" stroke-linecap="square"/><path d="M317.61 716.77L355.5 716.76 356.38 716.7 356.73 716.6 356.91 716.52 357.26 716.25 357.44 716.03 357.61 715.73 357.79 715.32 357.96 714.79 358.14 714.1 358.32 713.21 358.49 712.08 358.67 710.67 359.02 706.82 359.2 704.3 359.55 697.86 359.9 689.43 360.26 679.07 361.31 641.96 361.67 630.97 362.02 622.67 362.19 619.85 362.37 618.05 362.55 617.31 362.72 617.65 362.9 619.06 363.08 621.49 363.43 629.05 363.78 639.38 365.01 680.92 365.54 694.68 365.9 701.57 366.07 704.35 366.42 708.72 366.6 710.39 366.95 712.87 367.13 713.77 367.31 714.48 367.48 715.04 367.66 715.48 367.83 715.81 368.01 716.07 368.36 716.4 368.72 716.59 369.24 716.71 369.77 716.75 370.83 716.77 493.84 716.77" stroke="#ff7f0e" stroke-dasharray="2.08 3.44"/><path d="M317.61 716.77L354.09 716.76 354.79 716.69 355.15 716.6 355.32 716.51 355.67 716.23 355.85 716 356.03 715.69 356.2 715.26 356.38 714.71 356.56 713.98 356.73 713.05 356.91 711.86 357.08 710.38 357.44 706.35 357.79 700.59 358.14 692.85 358.49 683.08 358.85 671.55 359.73 639.89 360.08 629.09 360.43 621.21 360.61 618.67 360.78 617.18 360.96 616.79 361.14 617.49 361.31 619.27 361.49 622.05 361.84 630.23 362.19 641.03 363.25 677.36 363.78 692.05 364.13 699.56 364.31 702.62 364.66 707.49 364.84 709.37 365.19 712.2 365.37 713.23 365.72 714.71 365.9 715.22 366.07 715.61 366.25 715.92 366.6 716.32 366.95 716.54 367.48 716.69 368.19 716.75 369.24 716.77 493.84 716.77" stroke="#2ca02c" stroke-dasharray="7.71 3.33"/></g>
<path d="M318.5 717.5v5M406.5 717.5v5M494.5 717.5v5M309.5 717.5h-5M309.5 669.5h-5M309.5 621.5h-5" stroke="#000" stroke-width="1.11" fill="none"/>
<rect x="309.5" y="612.5" width="194" height="105" fill="none" stroke="#000" stroke-width="1.11"/>
<g clip-path="url(#c14)" fill="none" stroke-width="2.08" stroke-linejoin="round"><path d="M569.51 716.77L608.28 716.77 608.99 716.7 609.34 716.57 609.52 716.42 609.69 716.19 609.87 715.83 610.05 715.29 610.22 714.49 610.4 713.33 610.57 711.72 610.75 709.52 610.93 706.62 611.1 702.88 611.28 698.21 611.46 692.56 611.81 678.32 612.51 643.15 612.87 627.83 613.04 622.23 613.22 618.49 613.39 616.82 613.57 617.32 613.75 619.96 613.92 624.55 614.28 638.32 615.16 680.67 615.51 693.91 615.86 703.44 616.04 706.9 616.21 709.61 616.39 711.68 616.57 713.22 616.74 714.35 616.92 715.15 617.1 715.7 617.27 716.08 617.45 716.34 617.62 716.5 617.8 716.61 618.15 716.71 618.68 716.76 619.56 716.77 745.75 716.77" stroke="#1f77b4" stroke-linecap="square"/><path d="M569.51 716.77L608.99 716.77 609.69 716.72 610.05 716.61 610.22 716.5 610.4 716.31 610.57 716.03 610.75 715.58 610.93 714.92 611.1 713.95 611.28 712.59 611.46 710.71 611.63 708.2 611.81 704.92 611.98 700.76 612.16 695.65 612.51 682.48 613.57 631.75 613.75 625.32 613.92 620.55 614.1 617.74 614.28 617.04 614.45 618.5 614.63 622.01 614.8 627.35 615.16 642.08 615.69 668.13 616.04 683.87 616.39 696.28 616.57 701.09 616.74 705.02 616.92 708.14 617.1 710.56 617.27 712.39 617.45 713.74 617.62 714.72 617.8 715.41 617.98 715.88 618.15 716.2 618.33 716.41 618.51 716.55 618.68 716.64 619.03 716.73 620.27 716.77 745.75 716.77" stroke="#ff7f0e" stroke-dasharray="2.08 3.44"/><path d="M569.51 716.77L608.28 716.76 608.99 716.7 609.34 716.55 609.52 716.4 609.69 716.16 609.87 715.78 610.05 715.21 610.22 714.37 610.4 713.17 610.57 711.49 610.75 709.22 610.93 706.22 611.28 697.61 611.46 691.83 611.81 677.38 612.51 642.16 612.87 627.1 613.04 621.7 613.22 618.19 613.39 616.77 613.57 617.53 613.75 620.4 613.92 625.2 614.28 639.26 615.16 681.53 615.51 694.56 615.86 703.88 616.04 707.25 616.21 709.88 616.39 711.88 616.57 713.37 616.74 714.45 616.92 715.22 617.1 715.76 617.27 716.12 617.45 716.36 617.62 716.52 617.8 716.62 618.15 716.72 618.68 716.76 619.56 716.77 745.75 716.77" stroke="#2ca02c" stroke-dasharray="7.71 3.33"/></g>
<path d="M570.5 717.5v5M658.5 717.5v5M746.5 717.5v5M561.5 717.5h-5M561.5 674.5h-5M561.5 632.5h-5" stroke="#000" stroke-width="1.11" fill="none"/>
<rect x="561.5" y="612.5" width="194" height="105" fill="none" stroke="#000" stroke-width="1.11"/>
<g font-family="'DejaVu Sans','Liberation Sans',sans-serif" font-size="13.89" fill="#000">
<text x="66.51" y="149" text-anchor="middle">0.0</text>
<text x="154.41" y="149" text-anchor="middle">0.5</text>
<text x="241.49" y="149" text-anchor="middle">1.0</text>
<text x="47.67" y="134" text-anchor="end">0</text>
<text x="46.83" y="89" text-anchor="end">5</text>
<text x="47.12" y="43" text-anchor="end">10</text>
<text transform="translate(20.05 77.62) rotate(-90)" text-anchor="middle">prob. density</text>
<text x="76.04" y="21">0 flips</text>
<text x="318.42" y="149" text-anchor="middle">0.0</text>
<text x="406.36" y="149" text-anchor="middle">0.5</text>
<text x="493.51" y="149" text-anchor="middle">1.0</text>
<text x="299.82" y="134" text-anchor="end">0</text>
<text x="299.17" y="89" text-anchor="end">10</text>
<text x="298.7" y="43" text-anchor="end">20</text>
<text x="328.85" y="21">H</text>
<text x="569.33" y="149" text-anchor="middle">0.0</text>
<text x="657.31" y="149" text-anchor="middle">0.5</text>
<text x="745.44" y="149" text-anchor="middle">1.0</text>
<text x="551.73" y="134" text-anchor="end">0</text>
<text x="551.18" y="98" text-anchor="end">10</text>
<text x="550.72" y="61" text-anchor="end">20</text>
<text x="580.47" y="21">HH</text>
<text x="66.51" y="296" text-anchor="middle">0.0</text>
<text x="154.41" y="296" text-anchor="middle">0.5</text>
<text x="241.49" y="296" text-anchor="middle">1.0</text>
<text x="47.67" y="281" text-anchor="end">0</text>
<text x="46.83" y="220" text-anchor="end">5</text>
<text transform="translate(28.89 224.62) rotate(-90)" text-anchor="middle">prob. density</text>
<text x="76.23" y="168">HHT</text>
<text x="318.42" y="296" text-anchor="middle">0.0</text>
<text x="406.36" y="296" text-anchor="middle">0.5</text>
<text x="493.51" y="296" text-anchor="middle">1.0</text>
<text x="299.82" y="281" text-anchor="end">0</text>
<text x="298.73" y="220" text-anchor="end">5</text>
<text x="328.22" y="168">HHTT</text>
<text x="569.33" y="296" text-anchor="middle">0.0</text>
<text x="657.31" y="296" text-anchor="middle">0.5</text>
<text x="745.44" y="296" text-anchor="middle">1.0</text>
<text x="551.73" y="281" text-anchor="end">0</text>
<text x="550.88" y="221" text-anchor="end">5</text>
<text><tspan x="580.09" y="168" font-style="oblique">n</tspan><tspan x="591.6" y="168">=</tspan><tspan x="605.94" y="168">8</tspan><tspan x="614.78" y="168">,</tspan><tspan x="621.9" y="168" font-style="oblique">x</tspan><tspan x="632.82" y="168">=</tspan><tspan x="647.17" y="168">3</tspan></text>
<text x="66.51" y="443" text-anchor="middle">0.0</text>
<text x="154.41" y="443" text-anchor="middle">0.5</text>
<text x="241.49" y="443" text-anchor="middle">1.0</text>
<text x="47.67" y="428" text-anchor="end">0</text>
<text x="46.83" y="370" text-anchor="end">5</text>
<text transform="translate(28.89 371.62) rotate(-90)" text-anchor="middle">prob. density</text>
<text><tspan x="76.27" y="315" font-style="oblique">n</tspan><tspan x="87.78" y="315">=</tspan><tspan x="102.12" y="315">16</tspan><tspan x="119.79" y="315">,</tspan><tspan x="126.92" y="315" font-style="oblique">x</tspan><tspan x="137.84" y="315">=</tspan><tspan x="152.18" y="315">7</tspan></text>
<text x="318.42" y="443" text-anchor="middle">0.0</text>
<text x="406.36" y="443" text-anchor="middle">0.5</text>
<text x="493.51" y="443" text-anchor="middle">1.0</text>
<text x="299.82" y="428" text-anchor="end">0</text>
<text x="298.73" y="373" text-anchor="end">5</text>
<text><tspan x="328.26" y="315" font-style="oblique">n</tspan><tspan x="339.77" y="315">=</tspan><tspan x="354.12" y="315">32</tspan><tspan x="371.79" y="315">,</tspan><tspan x="378.91" y="315" font-style="oblique">x</tspan><tspan x="389.84" y="315">=</tspan><tspan x="404.18" y="315">9</tspan></text>
<text x="569.33" y="443" text-anchor="middle">0.0</text>
<text x="657.31" y="443" text-anchor="middle">0.5</text>
<text x="745.44" y="443" text-anchor="middle">1.0</text>
<text x="551.73" y="428" text-anchor="end">0</text>
<text x="550.88" y="378" text-anchor="end">5</text>
<text x="551.18" y="328" text-anchor="end">10</text>
<text><tspan x="580.31" y="315" font-style="oblique">n</tspan><tspan x="591.82" y="315">=</tspan><tspan x="606.16" y="315">64</tspan><tspan x="623.83" y="315">,</tspan><tspan x="630.96" y="315" font-style="oblique">x</tspan><tspan x="641.88" y="315">=</tspan><tspan x="656.22" y="315">14</tspan></text>
<text x="66.51" y="590" text-anchor="middle">0.0</text>
<text x="154.41" y="590" text-anchor="middle">0.5</text>
<text x="241.49" y="590" text-anchor="middle">1.0</text>
<text x="47.67" y="575" text-anchor="end">0</text>
<text x="46.83" y="533" text-anchor="end">5</text>
<text x="47.12" y="490" text-anchor="end">10</text>
<text transform="translate(20.05 518.62) rotate(-90)" text-anchor="middle">prob. density</text>
<text><tspan x="76.31" y="462" font-style="oblique">n</tspan><tspan x="87.82" y="462">=</tspan><tspan x="102.16" y="462">128</tspan><tspan x="128.67" y="462">,</tspan><tspan x="135.79" y="462" font-style="oblique">x</tspan><tspan x="146.72" y="462">=</tspan><tspan x="161.06" y="462">25</tspan></text>
<text x="318.42" y="590" text-anchor="middle">0.0</text>
<text x="406.36" y="590" text-anchor="middle">0.5</text>
<text x="493.51" y="590" text-anchor="middle">1.0</text>
<text x="299.82" y="575" text-anchor="end">0</text>
<text x="299.17" y="513" text-anchor="end">10</text>
<text><tspan x="328.31" y="462" font-style="oblique">n</tspan><tspan x="339.81" y="462">=</tspan><tspan x="354.16" y="462">256</tspan><tspan x="380.67" y="462">,</tspan><tspan x="387.79" y="462" font-style="oblique">x</tspan><tspan x="398.71" y="462">=</tspan><tspan x="413.06" y="462">51</tspan></text>
<text x="569.33" y="590" text-anchor="middle">0.0</text>
<text x="657.31" y="590" text-anchor="middle">0.5</text>
<text x="745.44" y="590" text-anchor="middle">1.0</text>
<text x="551.73" y="575" text-anchor="end">0</text>
<text x="551.18" y="530" text-anchor="end">10</text>
<text x="550.72" y="484" text-anchor="end">20</text>
<text><tspan x="580.48" y="462" font-style="oblique">n</tspan><tspan x="591.99" y="462">=</tspan><tspan x="606.33" y="462">512</tspan><tspan x="632.84" y="462">,</tspan><tspan x="639.96" y="462" font-style="oblique">x</tspan><tspan x="650.89" y="462">=</tspan><tspan x="665.23" y="462">111</tspan></text>
<text x="66.51" y="737" text-anchor="middle">0.0</text>
<text x="154.41" y="737" text-anchor="middle">0.5</text>
<text x="241.49" y="737" text-anchor="middle">1.0</text>
<text><tspan x="149.94" y="758" font-style="oblique">θ</tspan></text>
<text x="47.67" y="722" text-anchor="end">0</text>
<text x="47.67" y="656" text-anchor="end">20</text>
<text transform="translate(20.05 665.62) rotate(-90)" text-anchor="middle">prob. density</text>
<text><tspan x="76.28" y="609" font-style="oblique">n</tspan><tspan x="87.79" y="609">=</tspan><tspan x="102.13" y="609">1024</tspan><tspan x="137.48" y="609">,</tspan><tspan x="144.6" y="609" font-style="oblique">x</tspan><tspan x="155.52" y="609">=</tspan><tspan x="169.87" y="609">242</tspan></text>
<text x="318.42" y="737" text-anchor="middle">0.0</text>
<text x="406.36" y="737" text-anchor="middle">0.5</text>
<text x="493.51" y="737" text-anchor="middle">1.0</text>
<text><tspan x="402.09" y="758" font-style="oblique">θ</tspan></text>
<text x="299.82" y="722" text-anchor="end">0</text>
<text x="298.7" y="675" text-anchor="end">20</text>
<text x="299.22" y="627" text-anchor="end">40</text>
<text><tspan x="328.6" y="609" font-style="oblique">n</tspan><tspan x="340.1" y="609">=</tspan><tspan x="354.45" y="609">2048</tspan><tspan x="389.79" y="609">,</tspan><tspan x="396.91" y="609" font-style="oblique">x</tspan><tspan x="407.84" y="609">=</tspan><tspan x="422.18" y="609">504</tspan></text>
<text x="569.33" y="737" text-anchor="middle">0.0</text>
<text x="657.31" y="737" text-anchor="middle">0.5</text>
<text x="745.44" y="737" text-anchor="middle">1.0</text>
<text><tspan x="654.01" y="758" font-style="oblique">θ</tspan></text>
<text x="551.73" y="722" text-anchor="end">0</text>
<text x="550.63" y="680" text-anchor="end">25</text>
<text x="550.12" y="638" text-anchor="end">50</text>
<text><tspan x="580.5" y="609" font-style="oblique">n</tspan><tspan x="592.01" y="609">=</tspan><tspan x="606.35" y="609">4096</tspan><tspan x="641.7" y="609">,</tspan><tspan x="648.82" y="609" font-style="oblique">x</tspan><tspan x="659.74" y="609">=</tspan><tspan x="674.09" y="609">1021</tspan></text>
</g></svg>
</body></html>
